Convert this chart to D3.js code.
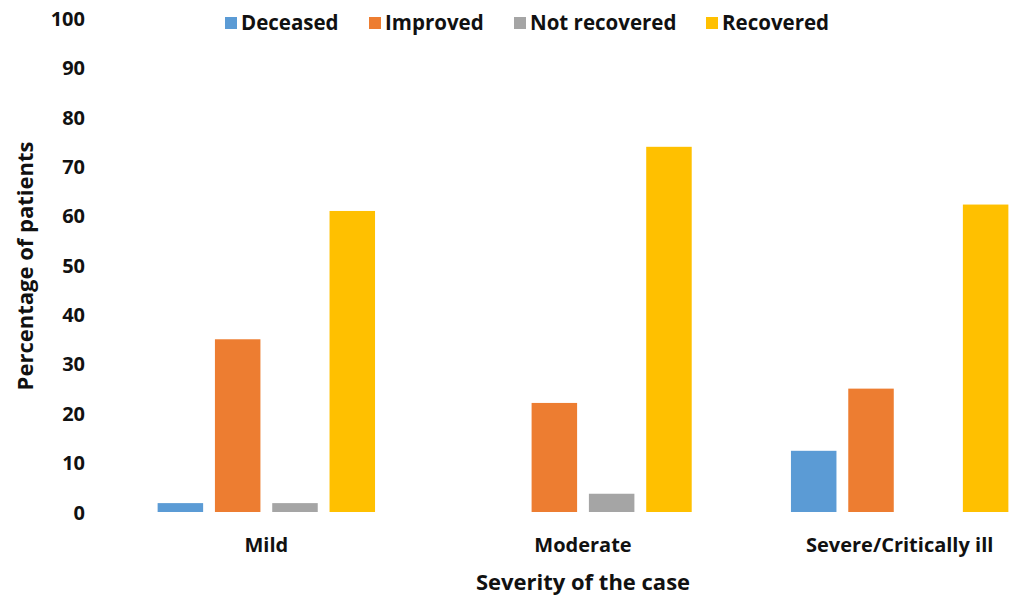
<!DOCTYPE html>
<html><head><meta charset="utf-8">
<script src="https://cdn.jsdelivr.net/npm/d3@7"></script>
<style>
html,body{margin:0;padding:0;background:#fff;}
svg{display:block;}
text{font-family:"Open Sans",sans-serif;font-weight:bold;fill:#111;}
</style></head>
<body>
<svg id="chart" width="1014" height="598"></svg>
<script>
const categories = ["Mild", "Moderate", "Severe/Critically ill"];
const seriesNames = ["Deceased", "Improved", "Not recovered", "Recovered"];
const deceased = [1.8, 0, 12.4];
const improved = [35, 22.1, 25];
const notRecovered = [1.8, 3.7, 0];
const recovered = [61, 74, 62.3];
const yTicks = [0,10,20,30,40,50,60,70,80,90,100];
const colors = ["#5B9BD5", "#ED7D31", "#A5A5A5", "#FFC000"];

const seriesValues = [deceased, improved, notRecovered, recovered];
const svg = d3.select("#chart");
const FONT = "'Open Sans', sans-serif";

const x0 = d3.scaleBand().domain(categories).range([108, 1058]).paddingInner(0).paddingOuter(0);
const x1 = d3.scaleBand().domain(seriesNames).range([0, x0.bandwidth()]).paddingInner(0.206).paddingOuter(0.866);
const y = d3.scaleLinear().domain([0, 100]).range([512, 18.5]);

// y axis (labels only)
const yAxis = d3.axisLeft(y).tickValues(yTicks).tickSize(0).tickPadding(0);
const yg = svg.append("g").attr("transform", "translate(85,0)").call(yAxis);
yg.select(".domain").remove();
yg.selectAll("text").style("font-size", "20px").style("font-family", FONT).style("font-weight", "bold").attr("fill", "#111").attr("dy", "0.35em");

// bars
categories.forEach((c, ci) => {
  seriesNames.forEach((s, si) => {
    const v = seriesValues[si][ci];
    if (v <= 0) return;
    svg.append("rect")
      .attr("x", x0(c) + x1(s))
      .attr("y", y(v))
      .attr("width", x1.bandwidth())
      .attr("height", y(0) - y(v))
      .attr("fill", colors[si]);
  });
});

// x axis labels
const xAxis = d3.axisBottom(x0).tickSize(0).tickPadding(0);
const xg = svg.append("g").attr("transform", "translate(0,552)").call(xAxis);
xg.select(".domain").remove();
xg.selectAll("text").style("font-size", "20px").style("font-family", FONT).style("font-weight", "bold").attr("fill", "#111").attr("y", 0).attr("dy", "0");

// axis titles
svg.append("text").attr("x", 583).attr("y", 590).attr("text-anchor", "middle").style("font-size", "22px").text("Severity of the case");
svg.append("text").attr("transform", "translate(33,266) rotate(-90)").attr("text-anchor", "middle").style("font-size", "22px").text("Percentage of patients");

// legend
const legendX = [225, 369, 514, 706];
seriesNames.forEach((s, i) => {
  const g = svg.append("g").attr("transform", `translate(${legendX[i]},17)`);
  g.append("rect").attr("width", 12).attr("height", 12).attr("fill", colors[i]);
  g.append("text").attr("x", 16).attr("y", 13).style("font-size", "20.5px").text(s);
});
</script>
</body></html>
